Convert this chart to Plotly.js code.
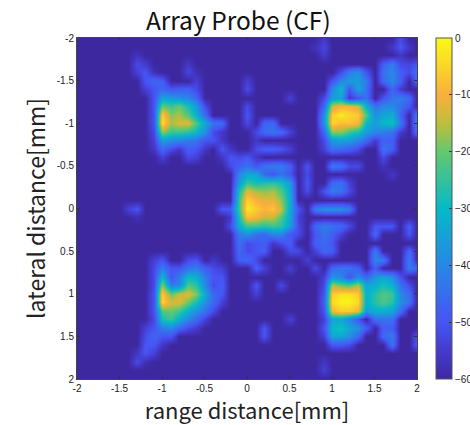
<!DOCTYPE html>
<html><head><meta charset="utf-8"><script src="https://cdn.plot.ly/plotly-3.0.1.min.js"></script>
<style>html,body{margin:0;padding:0;background:#fff;overflow:hidden}</style></head><body><div id="g" style="width:470px;height:425px"></div>
<script>
const _=-60;
const rangeMm=[-2,-1.9,-1.8,-1.7,-1.6,-1.5,-1.4,-1.3,-1.2,-1.1,-1,-.9,-.8,-.7,-.6,-.5,-.4,-.3,-.2,-.1,0,.1,.2,.3,.4,.5,.6,.7,.8,.9,1,1.1,1.2,1.3,1.4,1.5,1.6,1.7,1.8,1.9,2];
const lateralMm=rangeMm.slice();
const amplitudeDb=[
[_,_,_,_,_,_,_,_,_,_,_,_,_,_,_,_,_,_,_,_,_,_,_,_,_,_,_,_,_,-56,_,_,_,_,_,_,_,_,-52,_,_],
[_,_,_,_,_,_,_,_,_,_,_,_,_,_,_,_,_,_,_,_,_,_,_,_,_,_,_,_,-57,-53,_,_,_,_,_,_,_,-56,-50,-56,_],
[_,_,_,_,_,_,_,-57,_,_,_,_,_,_,_,_,_,_,_,_,_,_,_,_,_,_,_,_,_,-55,_,_,_,_,_,_,_,_,-56,_,_],
[_,_,_,_,_,_,_,-52,-55,_,_,_,_,-56,_,_,_,_,_,_,_,_,_,_,_,_,_,_,_,_,_,_,_,_,_,_,-48,-42,-52,-53,-50],
[_,_,_,_,_,_,_,-54,-50,-58,_,_,_,-53,-58,_,_,_,_,_,_,_,_,_,_,_,_,_,_,_,_,-52,-42,-38,-50,_,-44,-40,-48,-52,-44],
[_,_,_,_,_,_,_,_,-50,-46,-48,_,_,_,-54,_,_,_,_,_,-54,_,_,_,_,_,_,_,_,_,-50,-40,-36,-36,-42,_,-46,-40,-48,_,-46],
[_,_,_,_,_,_,_,_,-54,-50,-46,-50,-48,-48,-52,_,_,_,_,_,-52,_,_,_,_,_,_,_,_,_,-40,-30,-50,-34,-44,_,_,-46,-55,_,_],
[_,_,_,_,_,_,_,_,_,-50,-34,-36,-38,-40,-46,_,_,_,_,_,_,_,_,_,_,-54,_,_,_,-52,-36,-34,-56,-50,-44,_,-50,-44,-42,-46,_],
[_,_,_,_,_,_,_,_,_,-50,-20,-24,-20,-28,-36,-52,_,_,_,_,-52,_,_,_,_,_,_,_,_,-46,-14,-10,-10,-14,-32,-44,-40,-40,-44,-50,_],
[_,_,_,_,_,_,_,_,_,-50,-6,-18,-16,-22,-32,-46,_,_,_,_,-50,_,_,_,_,_,_,_,_,-38,-6,-2,-5,-6,-22,-38,-34,-32,-46,_,-42],
[_,_,_,_,_,_,_,_,_,-50,-3,-16,-13,-12,-22,-34,-44,-46,_,_,-52,_,-47,-46,_,_,_,_,_,-38,-5,-8,-7,-10,-30,-36,-30,-28,-42,_,-40],
[_,_,_,_,_,_,_,_,_,-52,-18,-24,-24,-26,-30,-38,-52,-56,_,_,_,-52,-46,-44,-46,-54,_,_,_,-46,-18,-18,-24,-28,-36,-40,-42,-44,-55,_,-44],
[_,_,_,_,_,_,_,_,_,-54,-36,-38,-40,-42,-44,-50,-50,-56,_,_,_,-56,_,_,_,_,_,_,_,-52,-36,-34,-36,-40,-46,-55,-48,-48,_,_,_],
[_,_,_,_,_,_,_,_,_,-56,-46,-52,-56,-48,-50,-56,_,-50,-56,_,_,-52,-48,-48,-50,-54,_,_,_,-54,-44,-46,-48,-52,_,_,-44,-48,_,_,_],
[_,_,_,_,_,_,_,_,_,_,-54,_,_,-52,-54,_,_,-56,-50,-52,-50,-56,_,_,_,_,_,_,_,_,_,_,_,_,_,_,-52,_,_,_,_],
[_,_,_,_,_,_,_,_,_,_,_,_,_,_,_,_,_,_,-52,-48,-44,-50,-44,-42,-42,-48,_,-50,_,_,-42,-44,-52,-52,_,_,-57,_,_,_,_],
[_,_,_,_,_,_,_,_,_,_,_,_,_,_,_,_,_,_,_,-40,-34,-34,-46,-50,-44,-50,_,-52,_,_,_,_,_,_,_,_,_,-56,_,_,_],
[_,_,_,_,_,_,_,_,_,_,_,_,_,_,_,_,_,_,_,-36,-24,-28,-26,-25,-28,-36,_,-50,_,_,-46,-44,-54,_,_,_,_,_,_,_,_],
[_,_,_,_,_,_,_,_,_,_,_,_,_,_,_,_,_,_,_,-28,-12,-16,-18,-16,-22,-34,_,-52,_,-50,-42,-44,-52,_,_,_,_,_,_,_,_],
[_,_,_,_,_,_,_,_,_,_,_,_,_,_,_,_,_,_,_,-24,-5,-10,-12,-12,-18,-32,_,_,_,_,_,_,_,_,_,_,_,_,_,_,_],
[_,_,_,_,_,_,-54,-50,_,_,_,_,_,_,_,_,_,-50,-50,-24,-2,-6,-9,-7,-14,-34,-50,_,-42,-38,-38,-38,-42,_,_,_,_,_,_,_,_],
[_,_,_,_,_,_,_,-58,_,_,_,_,_,_,_,_,_,_,-56,-28,-8,-10,-14,-14,-22,-34,-54,_,_,_,_,_,_,_,_,_,_,_,_,_,_],
[_,_,_,_,_,_,_,_,_,_,_,_,_,_,_,_,_,_,-52,-32,-24,-24,-26,-24,-26,-36,-52,_,-46,-42,-44,-46,-52,_,_,-50,-50,-50,_,-48,_],
[_,_,_,_,_,_,_,_,_,_,_,_,_,_,_,_,_,_,_,-42,-38,-44,-46,-40,-40,-50,-52,_,-50,-44,-48,-54,_,_,_,-46,_,_,_,-50,_],
[_,_,_,_,_,_,_,_,_,_,_,_,_,_,_,_,_,_,_,-44,-52,-50,-48,-56,-52,-48,_,_,-48,-46,-50,_,_,_,_,_,_,_,_,_,_],
[_,_,_,_,_,_,_,_,_,_,_,_,_,_,_,_,_,_,_,-46,-52,-50,-48,_,_,-52,-52,_,-54,-46,-48,_,_,_,_,-42,_,_,_,-46,_],
[_,_,_,_,_,_,_,_,_,-54,-50,_,_,-52,-50,_,-56,_,_,-48,-46,-52,_,_,_,_,_,-54,_,_,_,_,_,_,_,-40,-42,_,_,-42,_],
[_,_,_,_,_,_,_,_,_,-52,-42,-50,-50,-44,-42,-48,-52,-54,_,_,_,-48,-54,_,_,-54,_,_,-52,_,-46,-44,-44,-48,_,-48,_,_,_,-42,-48],
[_,_,_,_,_,_,_,_,_,-52,-30,-50,-42,-30,-32,-42,-50,-50,_,_,_,_,_,_,_,_,_,_,_,-54,-38,-40,-50,-40,-46,-38,-34,-38,-50,_,_],
[_,_,_,_,_,_,_,_,_,-52,-18,-42,-40,-22,-26,-40,-52,-48,_,_,_,-50,_,_,-52,_,_,_,_,-52,-16,-20,-22,-16,-34,-32,-28,-32,-44,-52,_],
[_,_,_,_,_,_,_,_,_,-50,-6,-20,-14,-12,-18,-34,-46,-50,_,_,_,-54,_,_,_,_,_,_,_,-50,-6,-3,-3,-6,-32,-26,-22,-24,-40,-46,_],
[_,_,_,_,_,_,_,_,_,-50,-5,-13,-12,-20,-28,-38,-46,-54,_,_,_,_,_,_,_,_,_,_,_,-48,-4,-1,-1,-4,-32,-26,-22,-26,-38,-44,_],
[_,_,_,_,_,_,_,_,_,-50,-22,-20,-24,-32,-38,-44,-52,_,_,_,_,_,_,_,_,_,_,_,_,-50,-10,-6,-6,-10,-36,-32,-32,-34,-44,_,_],
[_,_,_,_,_,_,_,_,_,-52,-28,-24,-32,-40,-46,-54,_,_,_,_,_,_,_,_,_,-54,_,_,_,-54,-34,-34,-40,-50,_,-44,-44,-44,_,_,_],
[_,_,_,_,_,_,_,_,-54,-50,-42,-40,-46,-52,-55,_,_,_,_,_,_,_,-50,_,_,_,_,_,_,-50,-30,-28,-34,-38,-48,_,-48,-48,_,_,_],
[_,_,_,_,_,_,_,_,-52,-46,-50,-50,_,_,_,_,_,_,_,_,_,_,-50,_,_,_,_,_,_,-54,-34,-34,-38,-46,_,_,-46,-42,_,_,-50],
[_,_,_,_,_,_,_,_,-50,-50,-56,_,_,_,_,_,_,_,_,_,_,_,_,_,_,_,_,_,_,_,-50,-50,-52,_,_,_,_,-44,_,_,-48],
[_,_,_,_,_,_,_,-56,-50,-54,_,_,_,_,_,_,_,_,_,_,_,_,_,_,_,_,_,_,_,_,_,_,_,_,_,_,_,_,_,_,_],
[_,_,_,_,_,_,_,-52,-58,_,_,_,_,_,_,_,_,_,_,_,_,_,_,_,_,_,_,_,_,-56,_,_,_,_,_,_,_,_,_,_,_],
[_,_,_,_,_,_,_,_,_,_,_,_,_,_,_,_,_,_,_,_,_,_,_,_,_,_,_,_,_,-54,_,_,_,_,_,_,_,_,_,_,_],
[_,_,_,_,_,_,_,_,_,_,_,_,_,_,_,_,_,_,_,_,_,_,_,_,_,_,_,_,_,_,_,_,_,_,_,_,_,_,_,_,_]
];
const tickVals=[-2,-1.5,-1,-0.5,0,0.5,1,1.5,2];
const tickText=['-2','-1.5','-1','-0.5','0','0.5','1','1.5','2'];
const cbTicks=[0,-10,-20,-30,-40,-50,-60];
const cbText=['0','−10','−20','−30','−40','−50','−60'];
const scale=[[0,'rgb(61,40,160)'],[0.08,'rgb(68,58,205)'],[0.167,'rgb(70,85,245)'],[0.333,'rgb(40,135,230)'],[0.5,'rgb(5,185,200)'],[0.667,'rgb(100,200,110)'],[0.75,'rgb(190,190,60)'],[0.833,'rgb(250,175,60)'],[1,'rgb(250,250,20)']];
const axisBase={range:[-2,2],automargin:true,tickvals:tickVals,ticktext:tickText,ticks:'inside',ticklen:3,tickwidth:1,tickcolor:'#333',showgrid:false,zeroline:false,showline:true,linecolor:'#444',linewidth:1,mirror:'ticks',tickfont:{family:'Liberation Sans',size:10,color:'#222'}};
const data=[{type:'heatmap',x:rangeMm,y:lateralMm,z:amplitudeDb,zmin:-60,zmax:0,zsmooth:'best',colorscale:scale,
 colorbar:{thickness:16,thicknessmode:'pixels',len:1,lenmode:'fraction',y:0.5,yanchor:'middle',x:1.056,xanchor:'left',xpad:0,ypad:0,outlinewidth:1,outlinecolor:'#555',tickvals:cbTicks,ticktext:cbText,ticks:'inside',ticklen:3,tickcolor:'#333',tickfont:{family:'Liberation Sans',size:10,color:'#222'}}}];
const layout={width:470,height:425,margin:{l:77,r:53,t:38,b:46,autoexpand:false},paper_bgcolor:'#fff',plot_bgcolor:'#fff',
 title:{text:'Array Probe (CF)',font:{family:'Noto Sans CJK JP',size:24.5,color:'#111'},x:0.507,xref:'container',xanchor:'center',y:0.95,yref:'container',yanchor:'middle'},
 xaxis:Object.assign({},axisBase,{title:{text:'range distance[mm]',font:{family:'Noto Sans CJK JP',size:22,color:'#222'},standoff:5}}),
 yaxis:Object.assign({},axisBase,{range:[2,-2],title:{text:'lateral distance[mm]',font:{family:'Noto Sans CJK JP',size:23,color:'#222'},standoff:4}})};
Plotly.newPlot('g',data,layout,{displayModeBar:false,staticPlot:true});
</script></body></html>
